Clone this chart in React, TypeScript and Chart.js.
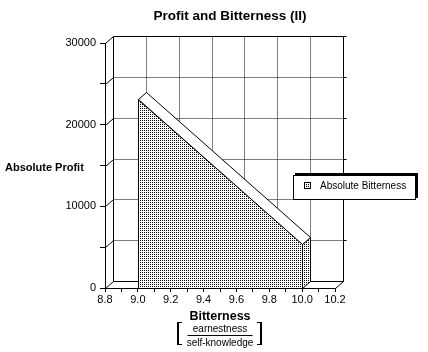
import React, { useEffect, useRef } from 'react';
import { Chart, registerables } from 'chart.js';

Chart.register(...registerables);

// ---- data ----
const chartTitle = 'Profit and Bitterness (II)';
const yAxisTitle = 'Absolute Profit';
const xAxisTitle = 'Bitterness';
const xUnitNumerator = 'earnestness';
const xUnitDenominator = 'self-knowledge';
const seriesLabel = 'Absolute Bitterness';
const bitterness = [9.0, 10.0];
const absoluteProfit = [23100, 5400];
const xMin = 8.8;
const xMax = 10.2;
const xStep = 0.1;
const yMin = 0;
const yMax = 30000;
const yStep = 5000;
const yLabelStep = 10000;

const DX = 8;
const DY = -7;
const FONT = '"Liberation Sans", Arial, sans-serif';

function makeStipple(): CanvasPattern | string {
  const c = document.createElement('canvas');
  c.width = 2;
  c.height = 2;
  const g = c.getContext('2d');
  if (!g) return '#ccc';
  g.fillStyle = '#fff';
  g.fillRect(0, 0, 2, 2);
  g.fillStyle = '#000';
  g.fillRect(0, 0, 1, 1);
  return g.createPattern(c, 'repeat') || '#ccc';
}

export default function App() {
  const ref = useRef<HTMLCanvasElement | null>(null);

  useEffect(() => {
    if (!ref.current) return;
    const stipple = makeStipple();
    const px = (v: number) => Math.round(v) + 0.5;
    const line = (ctx: CanvasRenderingContext2D, x1: number, y1: number, x2: number, y2: number) => {
      ctx.beginPath();
      ctx.moveTo(px(x1), px(y1));
      ctx.lineTo(px(x2), px(y2));
      ctx.stroke();
    };

    const threeD = {
      id: 'threeD',
      beforeDatasetsDraw(chart: any) {
        const ctx: CanvasRenderingContext2D = chart.ctx;
        const xs = chart.scales.x;
        const ys = chart.scales.y;
        const { left, right, top, bottom } = chart.chartArea;
        const bl = left + DX, br = right + DX, bt = top + DY, bb = bottom + DY;
        ctx.save();
        ctx.strokeStyle = '#000';
        ctx.lineWidth = 1;
        // dotted back-wall grid
        ctx.setLineDash([1, 1]);
        for (let v = yMin + yStep; v < yMax; v += yStep) {
          const yb = Math.round(ys.getPixelForValue(v)) + DY;
          line(ctx, bl, yb, br, yb);
        }
        xs.ticks.forEach((t: any, i: number) => {
          if (i % 2 !== 0 || i === 0 || i === xs.ticks.length - 1) return;
          const xb = Math.round(xs.getPixelForValue(t.value)) + DX;
          line(ctx, xb, bt, xb, bb);
        });
        ctx.setLineDash([]);
        // back wall frame
        line(ctx, bl, bt, bl, bb);
        line(ctx, bl, bt, br, bt);
        line(ctx, br, bt, br, bb);
        line(ctx, bl, bb, br, bb);
        // right stubs
        for (let v = yMin + yStep; v <= yMax; v += yStep) {
          const yb = Math.round(ys.getPixelForValue(v)) + DY;
          line(ctx, br, yb, br + 3, yb);
        }
        // depth ticks from front axis to back wall
        for (let v = yMin; v <= yMax; v += yStep) {
          const yf = Math.round(ys.getPixelForValue(v));
          line(ctx, left, yf, left + DX, yf + DY);
        }
        line(ctx, right, bottom, br, bb);
        ctx.restore();
      },
      afterDatasetsDraw(chart: any) {
        const ctx: CanvasRenderingContext2D = chart.ctx;
        const ys = chart.scales.y;
        const pts = chart.getDatasetMeta(0).data;
        const base = Math.round(ys.getPixelForValue(0));
        ctx.save();
        ctx.strokeStyle = '#000';
        ctx.lineWidth = 1;
        const p0 = { x: Math.round(pts[0].x), y: Math.round(pts[0].y) };
        const p1 = { x: Math.round(pts[pts.length - 1].x), y: Math.round(pts[pts.length - 1].y) };
        // right side face
        ctx.fillStyle = stipple as any;
        ctx.beginPath();
        ctx.moveTo(p1.x + 0.5, p1.y + 0.5);
        ctx.lineTo(p1.x + DX + 0.5, p1.y + DY + 0.5);
        ctx.lineTo(p1.x + DX + 0.5, base + DY + 0.5);
        ctx.lineTo(p1.x + 0.5, base + 0.5);
        ctx.closePath();
        ctx.fill();
        ctx.stroke();
        // top ribbon
        ctx.fillStyle = '#fff';
        ctx.beginPath();
        for (let i = 0; i < pts.length; i++) {
          const x = Math.round(pts[i].x) + 0.5, y = Math.round(pts[i].y) + 0.5;
          if (i === 0) ctx.moveTo(x, y); else ctx.lineTo(x, y);
        }
        for (let i = pts.length - 1; i >= 0; i--) {
          ctx.lineTo(Math.round(pts[i].x) + DX + 0.5, Math.round(pts[i].y) + DY + 0.5);
        }
        ctx.closePath();
        ctx.fill();
        ctx.stroke();
        // front vertical edges
        line(ctx, p0.x, p0.y, p0.x, base);
        line(ctx, p1.x, p1.y, p1.x, base);
        ctx.restore();
      },
      afterDraw(chart: any) {
        const ctx: CanvasRenderingContext2D = chart.ctx;
        ctx.save();
        ctx.fillStyle = '#000';
        ctx.strokeStyle = '#000';
        ctx.lineWidth = 1;
        // title
        ctx.font = `bold 13.5px ${FONT}`;
        ctx.textAlign = 'center';
        ctx.textBaseline = 'alphabetic';
        ctx.fillText(chartTitle, 230, 20);
        // y title
        ctx.font = `bold 11px ${FONT}`;
        ctx.textAlign = 'left';
        ctx.fillText(yAxisTitle, 5, 171);
        // x title
        ctx.font = `bold 12.5px ${FONT}`;
        ctx.textAlign = 'center';
        ctx.fillText(xAxisTitle, 220, 320);
        // unit fraction
        ctx.font = `10px ${FONT}`;
        ctx.fillText(xUnitNumerator, 220, 332);
        ctx.fillText(xUnitDenominator, 220, 346);
        line(ctx, 187, 335, 252, 335);
        // brackets
        ctx.fillRect(177, 322, 2, 23);
        ctx.fillRect(177, 322, 5, 1);
        ctx.fillRect(177, 344, 5, 1);
        ctx.fillRect(260, 322, 2, 23);
        ctx.fillRect(257, 322, 5, 1);
        ctx.fillRect(257, 344, 5, 1);
        // legend
        const lx = 293, ly = 175, lw = 122, lh = 24;
        ctx.fillRect(lx + 2, ly - 2, lw + 1, lh + 1);
        ctx.fillStyle = '#fff';
        ctx.fillRect(lx, ly, lw, lh);
        ctx.strokeRect(lx + 0.5, ly + 0.5, lw, lh);
        ctx.fillStyle = stipple as any;
        ctx.fillRect(304, 182, 7, 7);
        ctx.strokeRect(304.5, 182.5, 6, 6);
        ctx.fillStyle = '#000';
        ctx.font = `10px ${FONT}`;
        ctx.textAlign = 'left';
        ctx.textBaseline = 'middle';
        ctx.fillText(seriesLabel, 320, 186);
        ctx.restore();
      },
    };

    const chart = new Chart(ref.current, {
      type: 'line',
      data: {
        datasets: [
          {
            label: seriesLabel,
            data: bitterness.map((x, i) => ({ x, y: absoluteProfit[i] })),
            fill: 'origin',
            backgroundColor: stipple as any,
            borderColor: '#000',
            borderWidth: 1,
            pointRadius: 0,
            tension: 0,
          },
        ],
      },
      options: {
        animation: false,
        responsive: false,
        devicePixelRatio: 1,
        events: [],
        layout: { padding: { left: 0, top: 43, right: 93, bottom: 0 } },
        plugins: {
          legend: { display: false },
          title: { display: false },
          tooltip: { enabled: false },
        },
        scales: {
          x: {
            type: 'linear',
            min: xMin,
            max: xMax,
            afterFit(scale: any) {
              scale.height = 64;
            },
            ticks: {
              stepSize: xStep,
              autoSkip: false,
              minRotation: 0,
              maxRotation: 0,
              padding: 1,
              color: '#000',
              font: { family: FONT, size: 11 },
              callback: (value: any, index: number) => (index % 2 === 0 ? Number(value).toFixed(1) : ''),
            },
            grid: { display: true, drawOnChartArea: false, drawTicks: true, tickLength: 4, color: '#000' },
            border: { display: true, color: '#000', width: 1 },
          },
          y: {
            type: 'linear',
            min: yMin,
            max: yMax,
            afterFit(scale: any) {
              scale.width = 105;
            },
            ticks: {
              stepSize: yStep,
              padding: 4,
              color: '#000',
              font: { family: FONT, size: 11 },
              callback: (value: any) => (Number(value) % yLabelStep === 0 ? String(value) : ''),
            },
            grid: { display: true, drawOnChartArea: false, drawTicks: true, tickLength: 5, color: '#000' },
            border: { display: true, color: '#000', width: 1 },
          },
        },
      },
      plugins: [threeD],
    } as any);

    return () => chart.destroy();
  }, []);

  return (
    <div style={{ position: 'absolute', left: 0, top: 0, width: 428, height: 352, background: '#fff' }}>
      <canvas ref={ref} width={428} height={352} style={{ width: 428, height: 352, display: 'block' }} />
    </div>
  );
}
